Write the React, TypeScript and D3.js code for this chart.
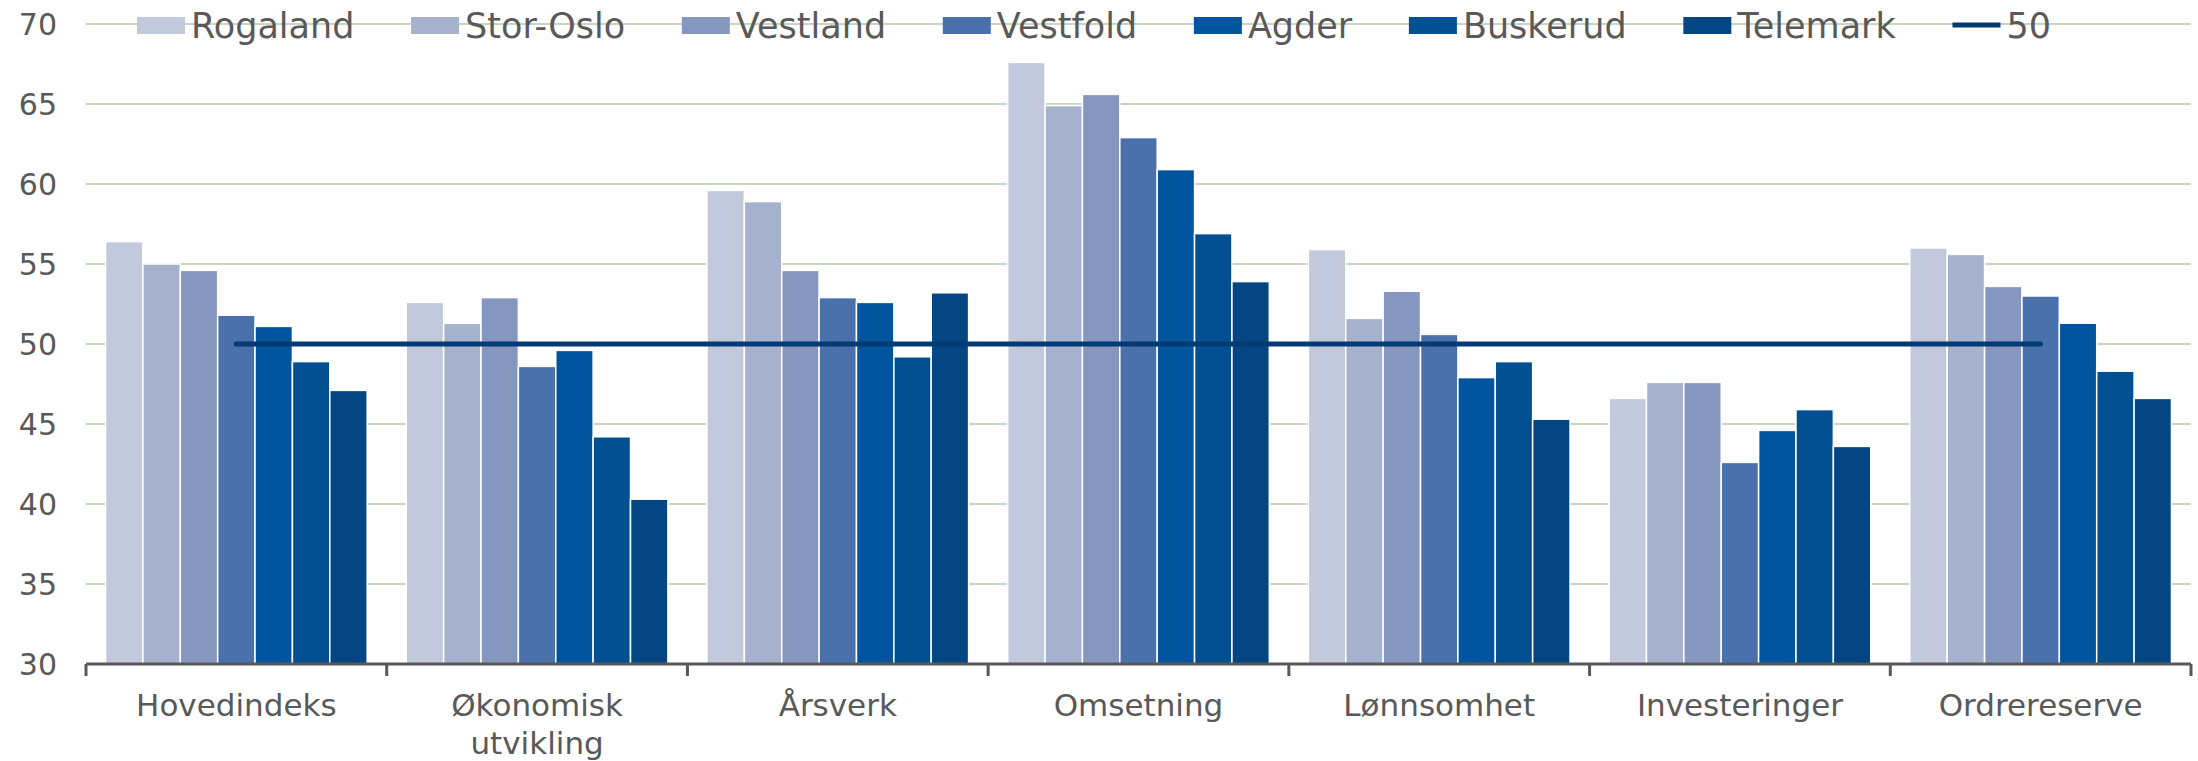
import React, { useEffect, useMemo } from "react";
import * as d3 from "d3";

const categories = ["Hovedindeks", "Økonomisk utvikling", "Årsverk", "Omsetning", "Lønnsomhet", "Investeringer", "Ordrereserve"];
const categoryLabelLines = [["Hovedindeks"], ["Økonomisk", "utvikling"], ["Årsverk"], ["Omsetning"], ["Lønnsomhet"], ["Investeringer"], ["Ordrereserve"]];
const seriesNames = ["Rogaland", "Stor-Oslo", "Vestland", "Vestfold", "Agder", "Buskerud", "Telemark"];

const rogaland = [56.4, 52.6, 59.6, 67.6, 55.9, 46.6, 56.0];
const storOslo = [55.0, 51.3, 58.9, 64.9, 51.6, 47.6, 55.6];
const vestland = [54.6, 52.9, 54.6, 65.6, 53.3, 47.6, 53.6];
const vestfold = [51.8, 48.6, 52.9, 62.9, 50.6, 42.6, 53.0];
const agder = [51.1, 49.6, 52.6, 60.9, 47.9, 44.6, 51.3];
const buskerud = [48.9, 44.2, 49.2, 56.9, 48.9, 45.9, 48.3];
const telemark = [47.1, 40.3, 53.2, 53.9, 45.3, 43.6, 46.6];
const seriesValues = [rogaland, storOslo, vestland, vestfold, agder, buskerud, telemark];

const referenceLabel = "50";
const referenceValue = 50;
const yTicks = [30, 35, 40, 45, 50, 55, 60, 65, 70];

const seriesColors = ["#c2c9dc", "#a6b1cd", "#8597bf", "#4a71ab", "#00559e", "#024f91", "#034683"];
const lineColor = "#023a73";
const textColor = "#595959";
const gridColor = "#c6d6c0";
const FONT = "DejaVu Sans, Verdana, sans-serif";

const W = 2198;
const H = 761;

export default function App() {
  useEffect(() => {
    document.body.style.margin = "0";
  }, []);

  const x0 = d3.scaleBand<string>().domain(categories).range([86, 2191]).paddingInner(0.13).paddingOuter(0.065);
  const x1 = d3.scaleBand<string>().domain(seriesNames).range([0, x0.bandwidth()]);
  const y = d3.scaleLinear().domain([30, 70]).range([664, 24]);
  const step = x0.step();
  const plotLeft = 86;
  const plotRight = 2191;
  const legendFs = 35;

  const legendItems = useMemo(() => {
    const labels = [...seriesNames, referenceLabel];
    const ctx = document.createElement("canvas").getContext("2d");
    if (ctx) ctx.font = `${legendFs}px DejaVu Sans`;
    const widths = labels.map((l) => (ctx ? ctx.measureText(l).width : l.length * legendFs * 0.6));
    const sw = 48, gap = 6;
    const spanStart = 137, spanEnd = 2051;
    const total = widths.reduce((a, w) => a + sw + gap + w, 0);
    const between = (spanEnd - spanStart - total) / (labels.length - 1);
    let cx = spanStart;
    return labels.map((l, i) => {
      const item = { label: l, x: cx, textX: cx + sw + gap, isLine: i === labels.length - 1, color: i < seriesColors.length ? seriesColors[i] : lineColor };
      cx += sw + gap + widths[i] + between;
      return item;
    });
  }, []);

  const firstCenter = (x0(categories[0]) ?? 0) + x0.bandwidth() / 2;
  const lastCenter = (x0(categories[categories.length - 1]) ?? 0) + x0.bandwidth() / 2;

  return (
    <svg width={W} height={H} style={{ display: "block", background: "#fff" }} fontFamily={FONT}>
      {yTicks.filter((t) => t > 30).map((t) => (
        <line key={t} x1={plotLeft} x2={plotRight} y1={y(t)} y2={y(t)} stroke={gridColor} strokeWidth={2} />
      ))}
      {yTicks.map((t) => (
        <text key={t} x={57} y={y(t)} dy="0.36em" textAnchor="end" fontSize={30} fill={textColor}>
          {t}
        </text>
      ))}
      {categories.map((c, ci) => (
        <g key={c} transform={`translate(${x0(c)},0)`}>
          {seriesNames.map((s, si) => {
            const v = seriesValues[si][ci];
            return (
              <rect
                key={s}
                x={x1(s)}
                y={y(v)}
                width={x1.bandwidth()}
                height={y(30) - y(v)}
                fill={seriesColors[si]}
                stroke="#fff"
                strokeWidth={1.5}
              />
            );
          })}
        </g>
      ))}
      <line x1={firstCenter} x2={lastCenter} y1={y(referenceValue)} y2={y(referenceValue)} stroke={lineColor} strokeWidth={5} strokeLinecap="round" />
      <line x1={plotLeft} x2={plotRight} y1={y(30)} y2={y(30)} stroke={textColor} strokeWidth={3} />
      {d3.range(categories.length + 1).map((i) => (
        <line key={i} x1={plotLeft + i * step} x2={plotLeft + i * step} y1={y(30)} y2={y(30) + 12} stroke={textColor} strokeWidth={3} />
      ))}
      {categories.map((c, ci) => (
        <text key={c} x={(x0(c) ?? 0) + x0.bandwidth() / 2} y={705} textAnchor="middle" fontSize={31} fill={textColor}>
          {categoryLabelLines[ci].map((ln, li) => (
            <tspan key={li} x={(x0(c) ?? 0) + x0.bandwidth() / 2} y={705 + li * 38} dy="0.36em">
              {ln}
            </tspan>
          ))}
        </text>
      ))}
      {legendItems.map((it) => (
        <g key={it.label}>
          {it.isLine ? (
            <line x1={it.x} x2={it.x + 48} y1={25} y2={25} stroke={it.color} strokeWidth={5} />
          ) : (
            <rect x={it.x} y={17} width={48} height={17} fill={it.color} />
          )}
          <text x={it.textX} y={25} dy="0.36em" fontSize={legendFs} fill={textColor}>
            {it.label}
          </text>
        </g>
      ))}
    </svg>
  );
}
